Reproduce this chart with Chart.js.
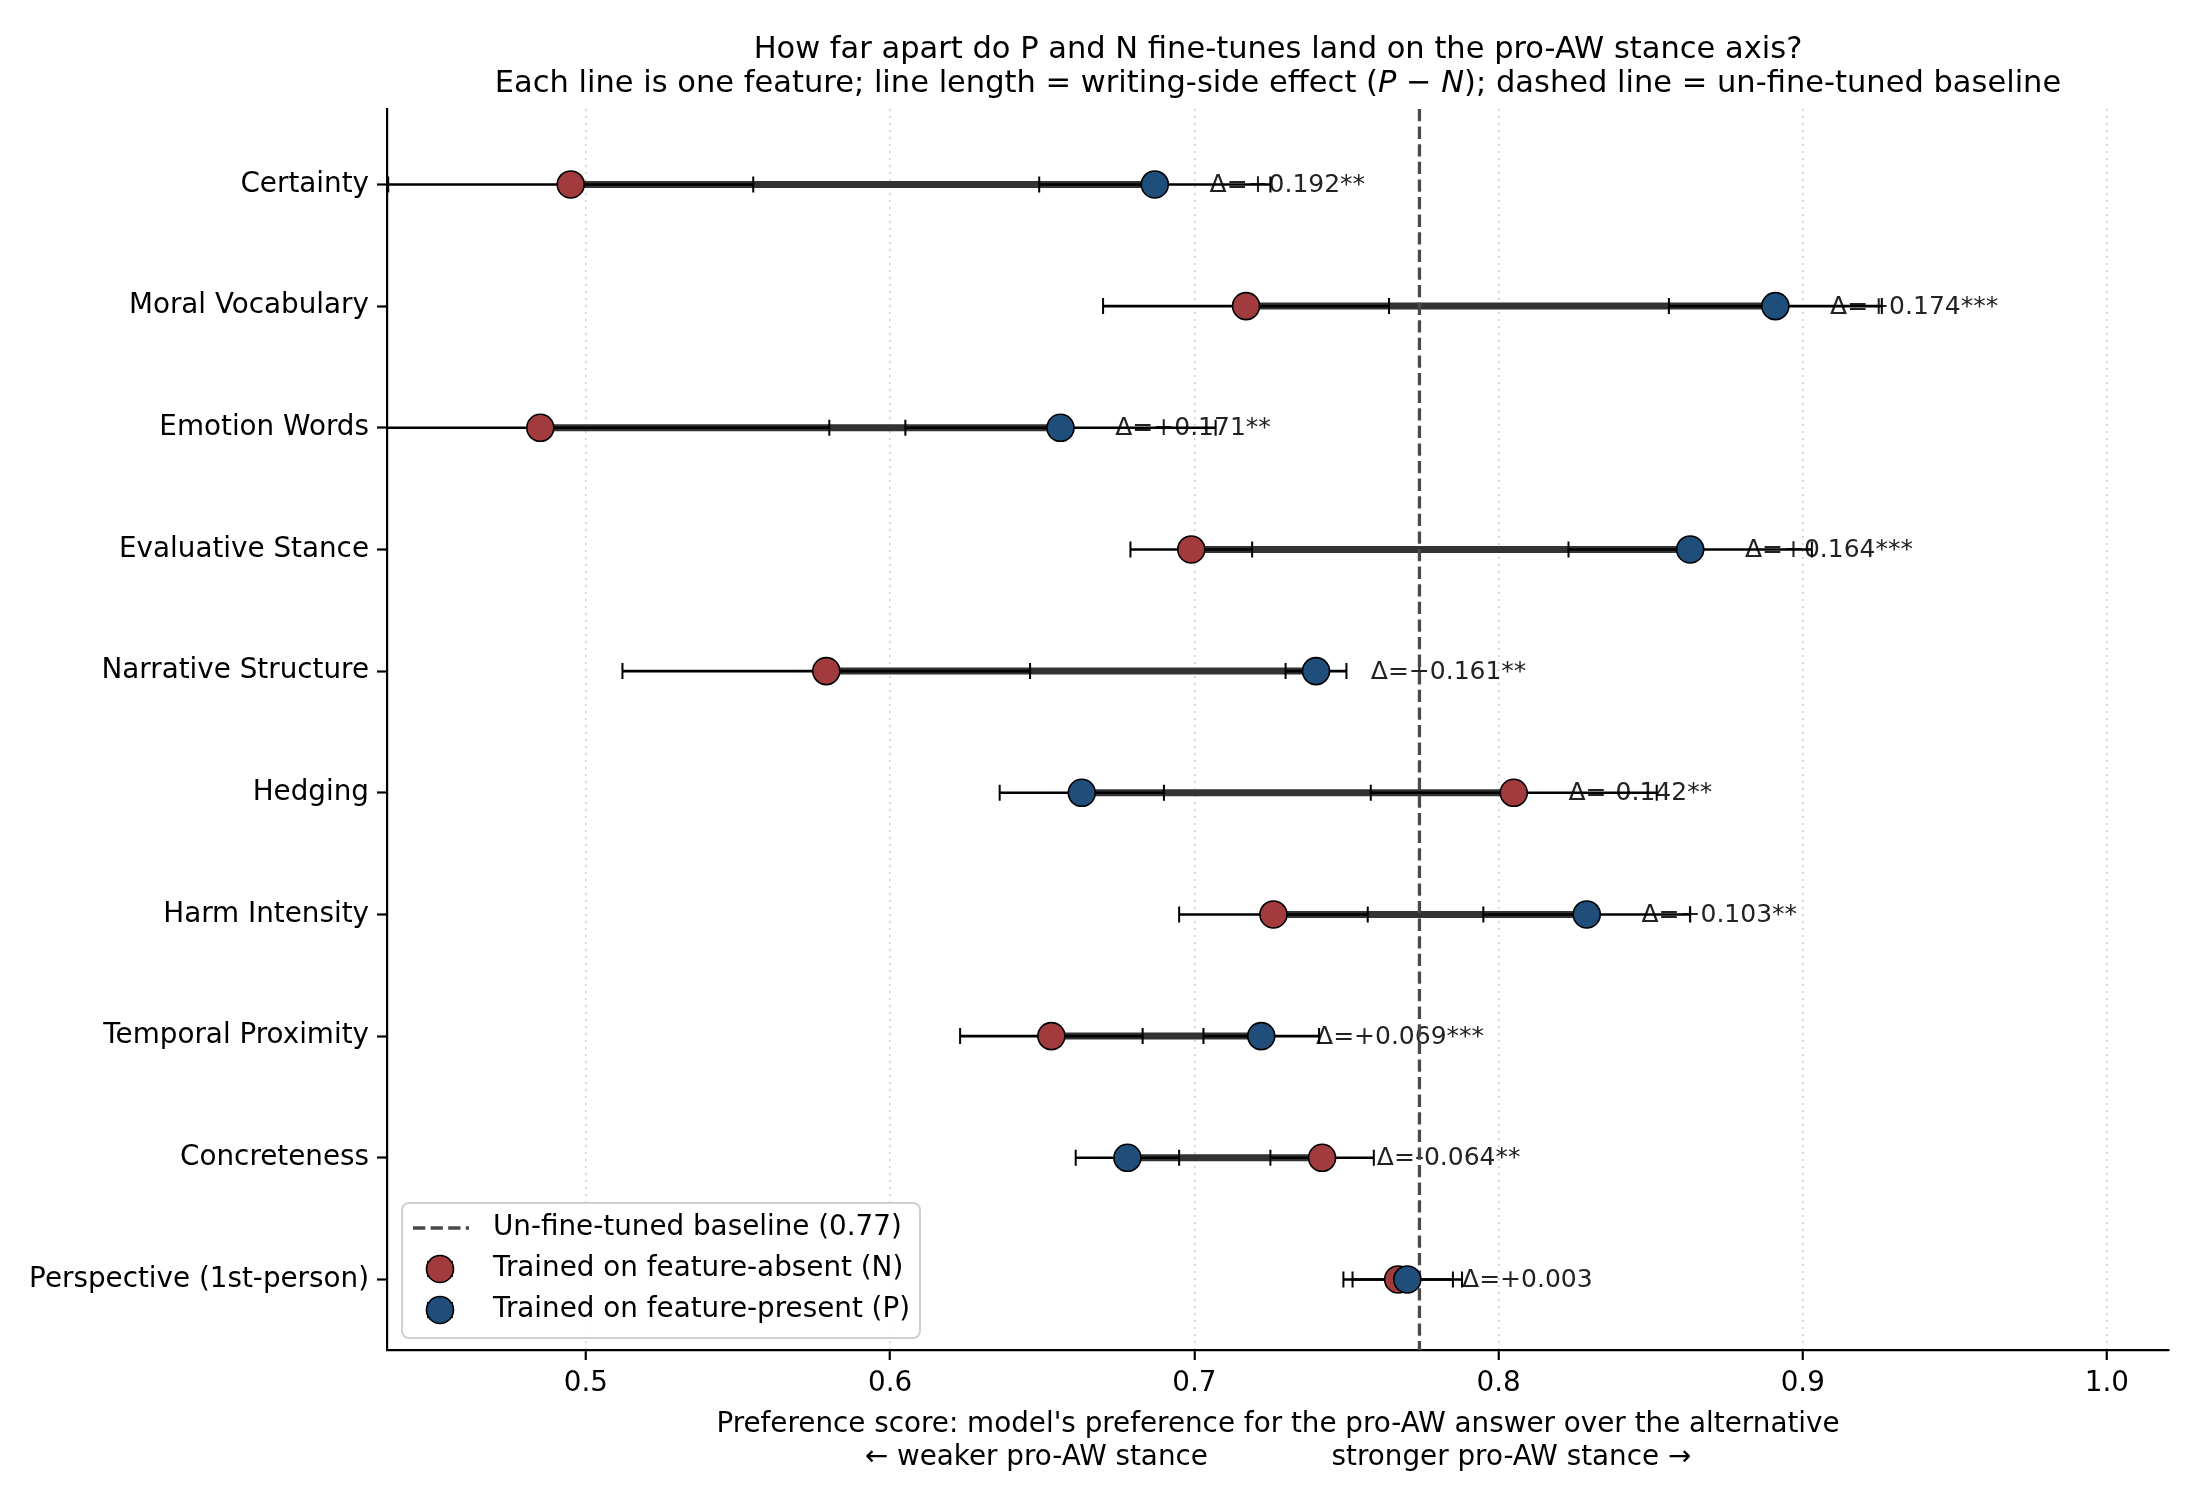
<!DOCTYPE html>
<html>
<head>
<meta charset="utf-8">
<script src="https://cdn.jsdelivr.net/npm/chart.js@4.4.1/dist/chart.umd.min.js"></script>
<style>
  html, body { margin: 0; padding: 0; background: #fff; }
  canvas { display: block; }
</style>
</head>
<body>
<canvas id="c" width="2200" height="1500"></canvas>
<script>
// features, top row first
const features = [
	'Certainty',
	'Moral Vocabulary',
	'Emotion Words',
	'Evaluative Stance',
	'Narrative Structure',
	'Hedging',
	'Harm Intensity',
	'Temporal Proximity',
	'Concreteness',
	'Perspective (1st-person)',
]
// trained on feature-absent (N): mean and CI half-width
const nScore = [0.495, 0.717, 0.485, 0.699, 0.579, 0.805, 0.726, 0.653, 0.742, 0.767]
const nErr   = [0.060, 0.047, 0.095, 0.020, 0.067, 0.047, 0.031, 0.030, 0.017, 0.018]
// trained on feature-present (P)
const pScore = [0.687, 0.891, 0.656, 0.863, 0.740, 0.663, 0.829, 0.722, 0.678, 0.770]
const pErr   = [0.038, 0.035, 0.051, 0.040, 0.010, 0.027, 0.034, 0.019, 0.017, 0.018]
// P - N as printed, and significance stars
const deltas = [0.192, 0.174, 0.171, 0.164, 0.161, -0.142, 0.103, 0.069, -0.064, 0.003]
const stars  = ['**', '***', '**', '***', '**', '**', '**', '***', '**', '']
// un-fine-tuned baseline
const baseline = 0.774
const xTicks = [0.5, 0.6, 0.7, 0.8, 0.9, 1.0]

const RED = '#A23B3E'
const BLUE = '#1F4E7A'
const FONT = '"DejaVu Sans", "Liberation Sans", sans-serif'

Chart.defaults.font.family = FONT
Chart.defaults.color = '#000'

// N -> P connector segments, broken with null y
const connector = []
features.forEach((f, i) => {
	connector.push({x: nScore[i], y: i}, {x: pScore[i], y: i}, {x: pScore[i], y: null})
})

// error bars, drawn right after the connectors
const errorBarPlugin = {
	id: 'errorBars',
	afterDatasetDraw(chart, args) {
		if (args.index !== 0) return
		const {ctx, chartArea: a, scales: {x, y}} = chart
		ctx.save()
		ctx.beginPath()
		ctx.rect(a.left, a.top, a.right - a.left, a.bottom - a.top)
		ctx.clip()
		ctx.strokeStyle = '#000'
		ctx.lineCap = 'butt'
		features.forEach((f, i) => {
			const yy = y.getPixelForValue(i)
			const bars = [[nScore[i], nErr[i]], [pScore[i], pErr[i]]]
			bars.forEach(([v, e]) => {
				const x1 = x.getPixelForValue(v - e)
				const x2 = x.getPixelForValue(v + e)
				ctx.lineWidth = 2.6
				ctx.beginPath()
				ctx.moveTo(x1, yy)
				ctx.lineTo(x2, yy)
				ctx.stroke()
				ctx.lineWidth = 2
				ctx.beginPath()
				ctx.moveTo(x1, yy - 8)
				ctx.lineTo(x1, yy + 8)
				ctx.moveTo(x2, yy - 8)
				ctx.lineTo(x2, yy + 8)
				ctx.stroke()
			})
		})
		ctx.restore()
	}
}

// delta labels next to each row
const deltaLabelPlugin = {
	id: 'deltaLabels',
	beforeDatasetsDraw(chart) {
		const {ctx, scales: {x, y}} = chart
		ctx.save()
		ctx.font = '25px ' + FONT
		ctx.fillStyle = '#222'
		ctx.textAlign = 'left'
		ctx.textBaseline = 'middle'
		features.forEach((f, i) => {
			const d = deltas[i]
			const txt = 'Δ=' + (d >= 0 ? '+' : '-') + Math.abs(d).toFixed(3) + stars[i]
			const xx = x.getPixelForValue(Math.max(nScore[i], pScore[i]) + 0.018)
			ctx.fillText(txt, xx, y.getPixelForValue(i) + 1)
		})
		ctx.restore()
	}
}

// title, x axis title and legend
const decoPlugin = {
	id: 'deco',
	afterDraw(chart) {
		const {ctx, chartArea: a} = chart
		const cx = (a.left + a.right) / 2
		ctx.save()
		ctx.fillStyle = '#000'
		ctx.textBaseline = 'middle'

		// title
		ctx.textAlign = 'center'
		ctx.font = '30.5px ' + FONT
		ctx.fillText('How far apart do P and N fine-tunes land on the pro-AW stance axis?', cx, 50)
		const segs = [
			['Each line is one feature; line length = writing-side effect (', false],
			['P', true],
			[' \u2212 ', false],
			['N', true],
			['); dashed line = un-fine-tuned baseline', false],
		]
		let total = 0
		segs.forEach(([t, it]) => {
			ctx.font = (it ? 'italic ' : '') + '30.5px ' + FONT
			total += ctx.measureText(t).width
		})
		let sx = cx - total / 2
		ctx.textAlign = 'left'
		segs.forEach(([t, it]) => {
			ctx.font = (it ? 'italic ' : '') + '30.5px ' + FONT
			ctx.fillText(t, sx, 84)
			sx += ctx.measureText(t).width
		})

		// x axis title
		ctx.textAlign = 'center'
		ctx.font = '27.8px ' + FONT
		ctx.fillText("Preference score: model's preference for the pro-AW answer over the alternative", cx, 1425)
		ctx.fillText('\u2190 weaker pro-AW stance' + ' '.repeat(14) + 'stronger pro-AW stance \u2192', cx, 1458)

		// legend
		ctx.beginPath()
		ctx.roundRect(402, 1203, 518, 135, 7)
		ctx.fillStyle = 'rgba(255,255,255,0.85)'
		ctx.fill()
		ctx.strokeStyle = '#d0d0d0'
		ctx.lineWidth = 2
		ctx.stroke()

		ctx.strokeStyle = '#4a4a4a'
		ctx.lineWidth = 3.3
		ctx.setLineDash([12.3, 5.3])
		ctx.beginPath()
		ctx.moveTo(413, 1228)
		ctx.lineTo(469, 1228)
		ctx.stroke()
		ctx.setLineDash([])

		const items = [[RED, 1269], [BLUE, 1310]]
		items.forEach(([col, yy]) => {
			ctx.strokeStyle = '#000'
			ctx.lineWidth = 2
			ctx.beginPath()
			ctx.moveTo(428, yy - 8)
			ctx.lineTo(428, yy + 8)
			ctx.moveTo(452, yy - 8)
			ctx.lineTo(452, yy + 8)
			ctx.stroke()
			ctx.beginPath()
			ctx.arc(440, yy, 13.5, 0, Math.PI * 2)
			ctx.fillStyle = col
			ctx.fill()
			ctx.lineWidth = 1.6
			ctx.stroke()
		})

		ctx.fillStyle = '#000'
		ctx.textAlign = 'left'
		ctx.font = '27.8px ' + FONT
		ctx.fillText('Un-fine-tuned baseline (0.77)', 493, 1228)
		ctx.fillText('Trained on feature-absent (N)', 493, 1269)
		ctx.fillText('Trained on feature-present (P)', 493, 1310)
		ctx.restore()
	}
}

const chart = new Chart(document.getElementById('c'), {
	type: 'scatter',
	data: {
		datasets: [
			{
				label: 'connector',
				data: connector,
				showLine: true,
				spanGaps: false,
				borderColor: '#333333',
				borderWidth: 7,
				borderCapStyle: 'butt',
				pointRadius: 0,
				order: 4,
			},
			{
				label: 'Un-fine-tuned baseline (0.77)',
				data: [{x: baseline, y: -0.62}, {x: baseline, y: 9.58}],
				showLine: true,
				borderColor: '#4a4a4a',
				borderWidth: 3.3,
				borderDash: [12.3, 5.3],
				pointRadius: 0,
				order: 3,
			},
			{
				label: 'Trained on feature-absent (N)',
				data: nScore.map((v, i) => ({x: v, y: i})),
				backgroundColor: RED,
				borderColor: '#000',
				borderWidth: 1.6,
				pointRadius: 13.5,
				order: 2,
			},
			{
				label: 'Trained on feature-present (P)',
				data: pScore.map((v, i) => ({x: v, y: i})),
				backgroundColor: BLUE,
				borderColor: '#000',
				borderWidth: 1.6,
				pointRadius: 13.5,
				order: 1,
			},
		]
	},
	options: {
		responsive: false,
		devicePixelRatio: 1,
		animation: false,
		events: [],
		layout: {
			padding: {left: 0, top: 109, right: 31, bottom: 0}
		},
		plugins: {
			legend: {display: false},
			tooltip: {enabled: false},
			title: {display: false},
		},
		scales: {
			x: {
				type: 'linear',
				min: 0.4346,
				max: 1.0204,
				afterBuildTicks: scale => { scale.ticks = xTicks.map(v => ({value: v})) },
				afterFit: scale => { scale.height = 150 },
				ticks: {
					callback: v => v.toFixed(1),
					font: {size: 27.8},
					color: '#000',
					padding: 7,
					maxRotation: 0,
				},
				grid: {
					color: 'rgba(0,0,0,0.2)',
					lineWidth: 1.5,
					tickColor: '#000',
					tickWidth: 2.2,
					tickLength: 10,
					tickBorderDash: [],
				},
				border: {
					color: '#000',
					width: 2.2,
					dash: [2, 5],
				},
			},
			y: {
				type: 'linear',
				min: -0.62,
				max: 9.58,
				reverse: true,
				afterBuildTicks: scale => { scale.ticks = features.map((f, i) => ({value: i})) },
				afterFit: scale => { scale.width = 387 },
				ticks: {
					callback: v => features[v],
					font: {size: 27.8},
					color: '#000',
					padding: 8,
				},
				grid: {
					drawOnChartArea: false,
					tickColor: '#000',
					tickWidth: 2.2,
					tickLength: 10,
				},
				border: {
					color: '#000',
					width: 2.2,
				},
			},
		}
	},
	plugins: [errorBarPlugin, deltaLabelPlugin, decoPlugin]
})
</script>
</body>
</html>
